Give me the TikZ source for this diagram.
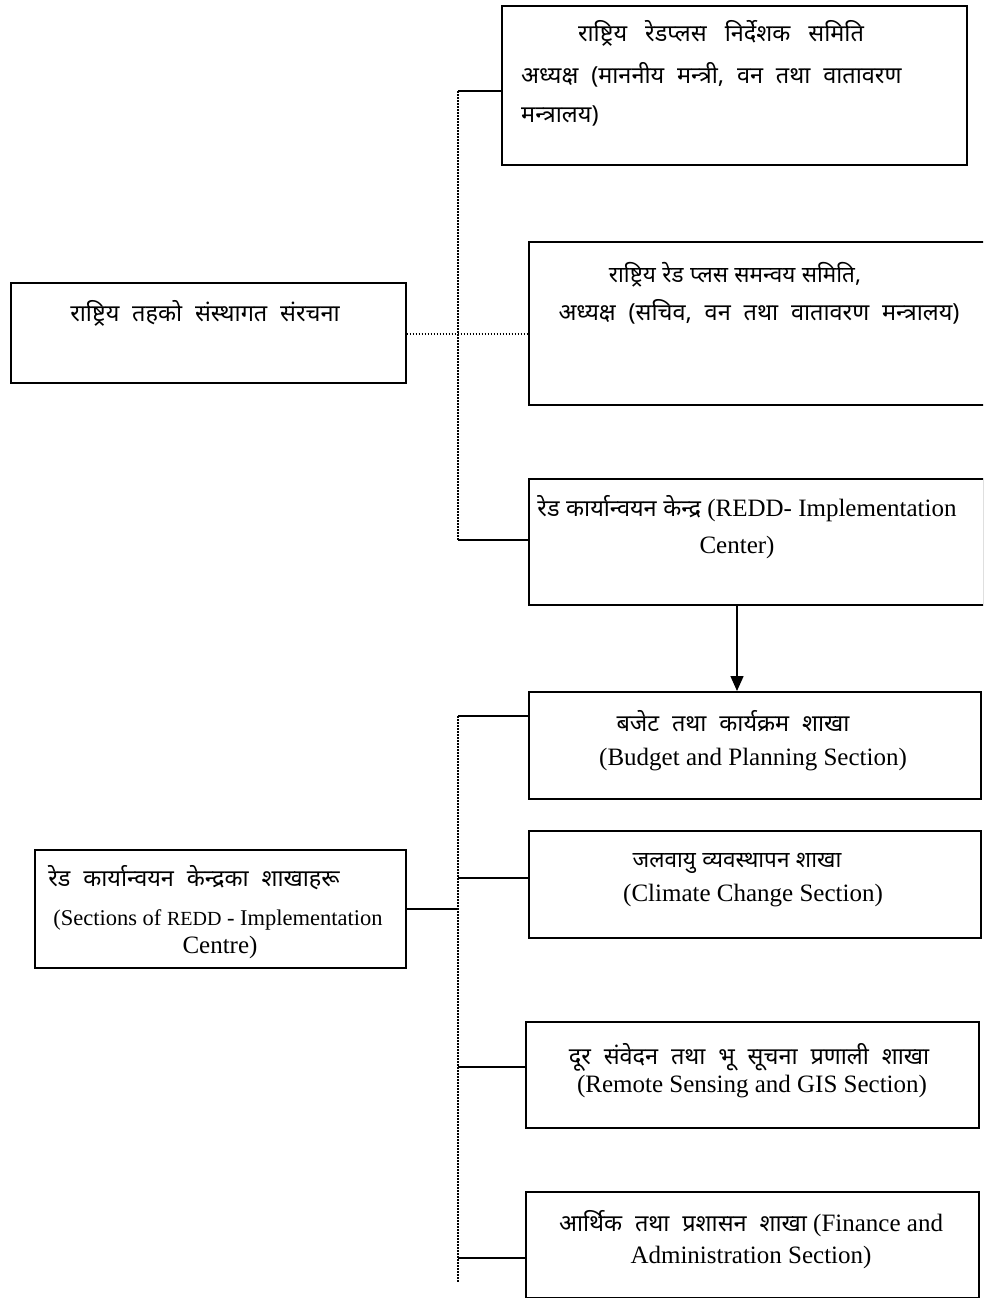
\documentclass[tikz,border=0pt]{standalone}
\usepackage{fontspec}
\setmainfont{Liberation Serif}
\newfontfamily\dev[Script=Devanagari,WordSpace=2.1]{Noto Sans}
\usetikzlibrary{arrows.meta}
\newcommand\D[1]{{\dev\fontsize{23.5}{28}\selectfont #1}}
\newcommand\Ds[3]{{\dev\fontsize{#1}{28}\selectfont\spaceskip=#2\relax #3}}
\tikzset{
  box/.style={draw, line width=1.6pt, inner sep=0pt, anchor=north west},
  conn/.style={line width=1.5pt},
  dotconn/.style={line width=1.6pt, dash pattern=on 1.5pt off 1.5pt},
  txt/.style={inner sep=0pt, anchor=base, font=\fontsize{25}{30}\selectfont},
  txtl/.style={txt, anchor=base west},
}
\begin{document}
\begin{tikzpicture}[x=1pt,y=-1pt]
\useasboundingbox (0,0) rectangle (983,1298);
\clip (0,0) rectangle (983,1298);
% boxes
\node[box, minimum width=465pt, minimum height=159pt] (b1) at (501,5) {};
\node[box, minimum width=395pt, minimum height=100pt] (b0) at (10,282) {};
\node[box, minimum width=470pt, minimum height=163pt] (b2) at (528,241) {};
\node[box, minimum width=455pt, minimum height=126pt] (b3) at (528,478) {};
\node[box, minimum width=452pt, minimum height=107pt] (b4) at (528,691) {};
\node[box, minimum width=452pt, minimum height=107pt] (b5) at (528,830) {};
\node[box, minimum width=371pt, minimum height=118pt] (bL) at (34,849) {};
\node[box, minimum width=453pt, minimum height=106pt] (b6) at (525,1021) {};
\node[box, minimum width=453pt, minimum height=106pt] (b7) at (525,1191) {};
% texts
\node[txt] (t1a) at (721,42) {\Ds{23.5pt}{18pt}{राष्ट्रिय रेडप्लस निर्देशक समिति}};
\node[txtl] (t1b) at (521,84) {\D{अध्यक्ष (माननीय मन्त्री, वन तथा वातावरण}};
\node[txtl] (t1c) at (521,122) {\D{मन्त्रालय)}};
\node[txt] (t0) at (205,321) {\D{राष्ट्रिय तहको संस्थागत संरचना}};
\node[txt] (t2a) at (735,282) {\Ds{22.5pt}{6.5pt}{राष्ट्रिय रेड प्लस समन्वय समिति,}};
\node[txt] (t2b) at (759,320) {\D{अध्यक्ष (सचिव, वन तथा वातावरण मन्त्रालय)}};
\node[txt] (t3a) at (747,516) {\Ds{23.5pt}{6.5pt}{रेड कार्यान्वयन केन्द्र} (REDD- Implementation};
\node[txt] (t3b) at (737,553) {Center)};
\node[txt] (t4a) at (733,731) {\D{बजेट तथा कार्यक्रम शाखा}};
\node[txt] (t4b) at (753,765) {(Budget and Planning Section)};
\node[txt] (t5a) at (737,867) {\Ds{22.5pt}{6.5pt}{जलवायु व्यवस्थापन शाखा}};
\node[txt] (t5b) at (753,901) {(Climate Change Section)};
\node[txt] (tLa) at (194,886) {\D{रेड कार्यान्वयन केन्द्रका शाखाहरू}};
\node[txt, font=\fontsize{22.5}{27}\selectfont] (tLb) at (218,925) {(Sections of {\fontsize{20}{24}\selectfont REDD} - Implementation};
\node[txt] (tLc) at (220,953) {Centre)};
\node[txt] (t6a) at (749,1064) {\D{दूर संवेदन तथा भू सूचना प्रणाली शाखा}};
\node[txt] (t6b) at (752,1092) {(Remote Sensing and GIS Section)};
\node[txt] (t7a) at (751,1231) {\D{आर्थिक तथा प्रशासन शाखा} (Finance and};
\node[txt] (t7b) at (751,1263) {Administration Section)};
% junction coordinates
\coordinate (j1) at (458,91);
\coordinate (j3) at (458,540);
\coordinate (j4) at (458,716);
\coordinate (jL) at (458,909);
\coordinate (jE) at (458,1282);
% upper group
\draw[conn] (j1) -- (b1.west |- j1);
\draw[dotconn] (j1) -- (j3);
\draw[conn] (j3) -- (b3.west |- j3);
\draw[dotconn] (b0.east |- 0,334) -- (b2.west |- 0,334);
\draw[conn, -{Triangle[length=15pt,width=13pt]}] (b3.south -| 737,0) -- (b4.north -| 737,0);
% lower group
\draw[dotconn] (j4) -- (jE);
\draw[conn] (j4) -- (b4.west |- j4);
\draw[conn] (j4 |- 0,878) -- (b5.west |- 0,878);
\draw[conn] (bL.east |- jL) -- (jL);
\draw[conn] (j4 |- 0,1067) -- (b6.west |- 0,1067);
\draw[conn] (j4 |- 0,1258) -- (b7.west |- 0,1258);
\end{tikzpicture}
\end{document}
